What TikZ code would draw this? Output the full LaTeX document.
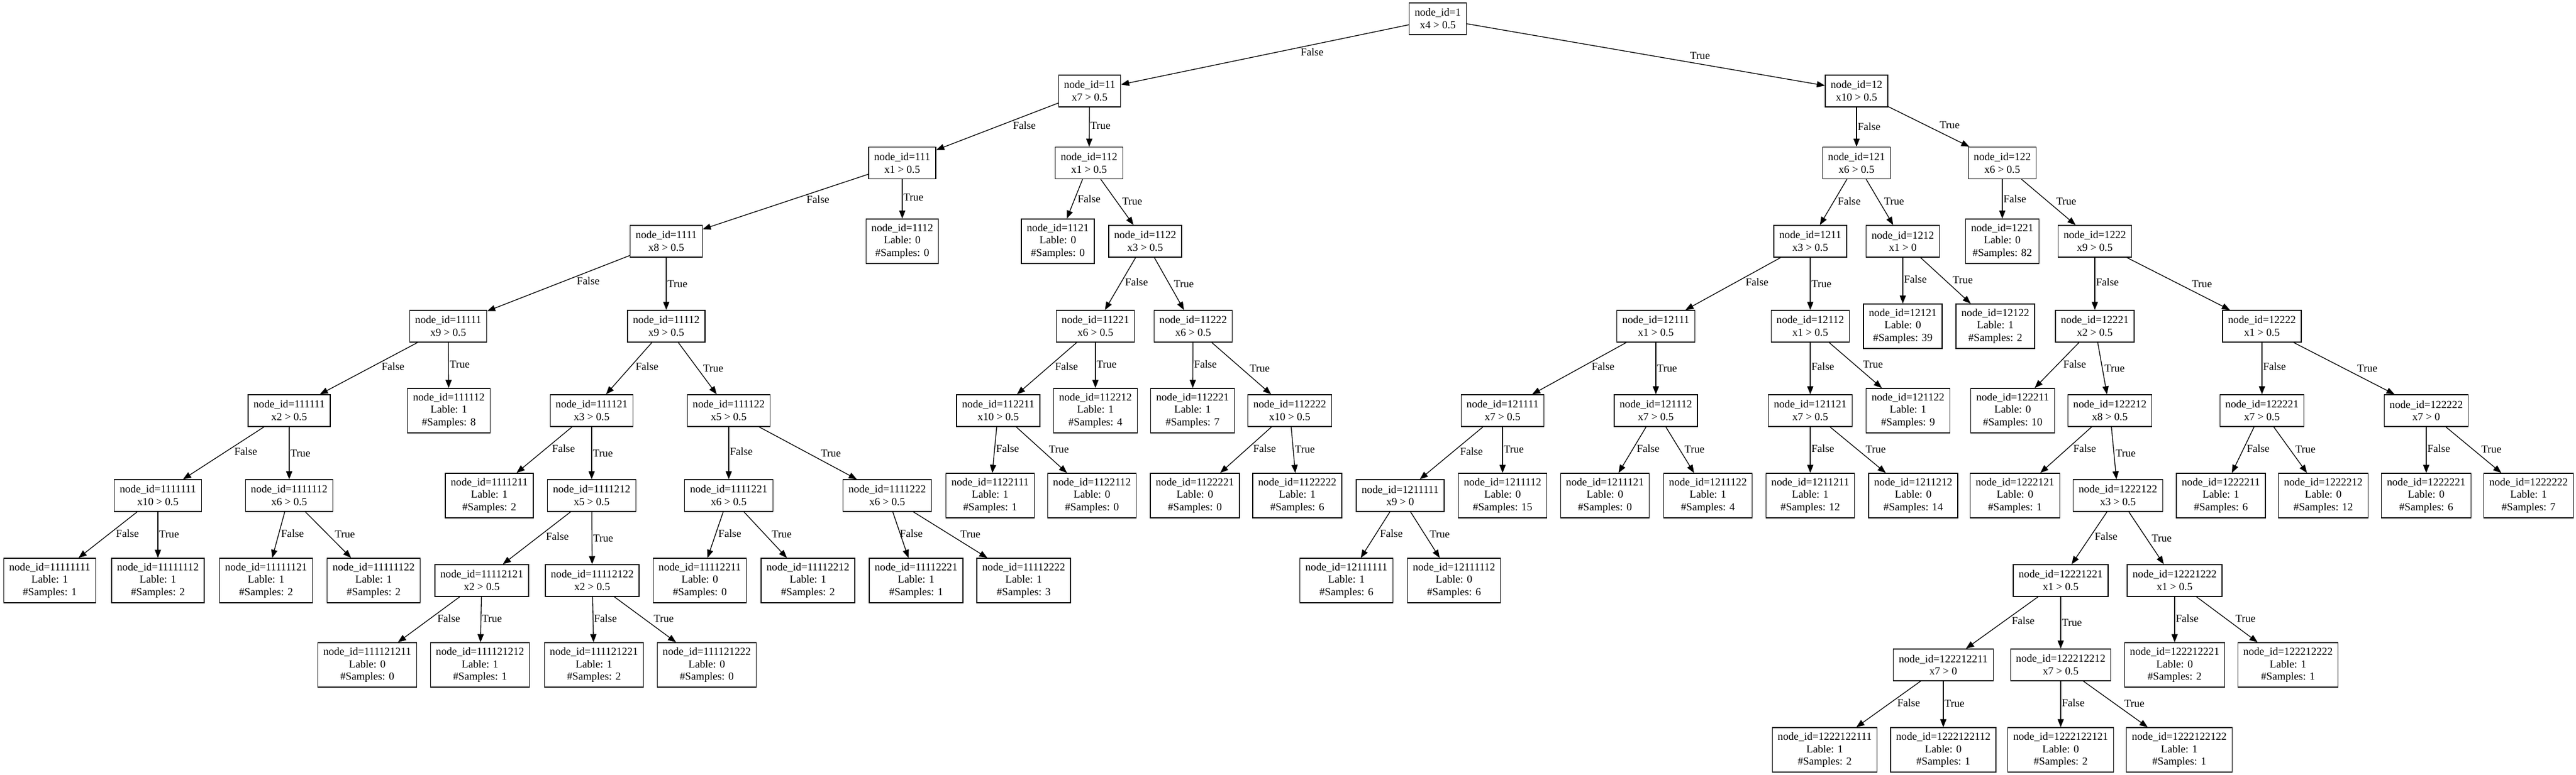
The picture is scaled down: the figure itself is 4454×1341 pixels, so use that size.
\documentclass[tikz,border=0pt]{standalone}
\usepackage{fontspec}
\setmainfont{Liberation Serif}
\usetikzlibrary{arrows.meta}

\begin{document}
\begin{tikzpicture}[x=0.75pt,y=-0.75pt]
					\useasboundingbox (0,0) rectangle (4454,1341);
					\tikzstyle{every node}=[font=\fontsize{14pt}{16.3pt}\selectfont];
					\tikzstyle{split}=[draw,line width=1pt,align=center,minimum height=41.25pt,inner xsep=7pt,inner ysep=2pt];
					\tikzstyle{leaf}=[split,minimum height=57.75pt];
					\tikzstyle{edge}=[line width=1pt,-{Triangle[length=10.5pt,width=8pt]}];
					\tikzstyle{fl}=[pos=0.38,anchor=north west,inner xsep=1pt,inner ysep=0pt,text height=10pt,text depth=3pt];
					\tikzstyle{tl}=[fl,pos=0.62,anchor=south west];

					\path (2486,32.5) node[split] (n1) {node\_id=1\\x4 > 0.5};

					\path (1884,157.5) node[split] (n11) {node\_id=11\\x7 > 0.5};
					\path (3210,157.5) node[split] (n12) {node\_id=12\\x10 > 0.5};

					\path (1560,282) node[split] (n111) {node\_id=111\\x1 > 0.5};
					\path (1883,282) node[split] (n112) {node\_id=112\\x1 > 0.5};
					\path (3210,282) node[split] (n121) {node\_id=121\\x6 > 0.5};
					\path (3462,282) node[split] (n122) {node\_id=122\\x6 > 0.5};

					\path (1152,417.5) node[split] (n1111) {node\_id=1111\\x8 > 0.5};
					\path (1560,417.5) node[leaf] (n1112) {node\_id=1112\\Lable: 0\\\#Samples: 0};
					\path (1829,417.5) node[leaf] (n1121) {node\_id=1121\\Lable: 0\\\#Samples: 0};
					\path (1980,417.5) node[split] (n1122) {node\_id=1122\\x3 > 0.5};
					\path (3130,417.5) node[split] (n1211) {node\_id=1211\\x3 > 0.5};
					\path (3290,417.5) node[split] (n1212) {node\_id=1212\\x1 > 0};
					\path (3462,417.5) node[leaf] (n1221) {node\_id=1221\\Lable: 0\\\#Samples: 82};
					\path (3622,417.5) node[split] (n1222) {node\_id=1222\\x9 > 0.5};

					\path (775,564.5) node[split] (n11111) {node\_id=11111\\x9 > 0.5};
					\path (1152,564.5) node[split] (n11112) {node\_id=11112\\x9 > 0.5};
					\path (1894,564.5) node[split] (n11221) {node\_id=11221\\x6 > 0.5};
					\path (2063,564.5) node[split] (n11222) {node\_id=11222\\x6 > 0.5};
					\path (2863,564.5) node[split] (n12111) {node\_id=12111\\x1 > 0.5};
					\path (3130,564.5) node[split] (n12112) {node\_id=12112\\x1 > 0.5};
					\path (3290,564.5) node[leaf] (n12121) {node\_id=12121\\Lable: 0\\\#Samples: 39};
					\path (3450,564.5) node[leaf] (n12122) {node\_id=12122\\Lable: 1\\\#Samples: 2};
					\path (3622,564.5) node[split] (n12221) {node\_id=12221\\x2 > 0.5};
					\path (3911,564.5) node[split] (n12222) {node\_id=12222\\x1 > 0.5};

					\path (500,710.5) node[split] (n111111) {node\_id=111111\\x2 > 0.5};
					\path (776,710.5) node[leaf] (n111112) {node\_id=111112\\Lable: 1\\\#Samples: 8};
					\path (1023,710.5) node[split] (n111121) {node\_id=111121\\x3 > 0.5};
					\path (1260,710.5) node[split] (n111122) {node\_id=111122\\x5 > 0.5};
					\path (1726,710.5) node[split] (n112211) {node\_id=112211\\x10 > 0.5};
					\path (1894,710.5) node[leaf] (n112212) {node\_id=112212\\Lable: 1\\\#Samples: 4};
					\path (2062,710.5) node[leaf] (n112221) {node\_id=112221\\Lable: 1\\\#Samples: 7};
					\path (2230,710.5) node[split] (n112222) {node\_id=112222\\x10 > 0.5};
					\path (2598,710.5) node[split] (n121111) {node\_id=121111\\x7 > 0.5};
					\path (2863,710.5) node[split] (n121112) {node\_id=121112\\x7 > 0.5};
					\path (3130,710.5) node[split] (n121121) {node\_id=121121\\x7 > 0.5};
					\path (3299,710.5) node[leaf] (n121122) {node\_id=121122\\Lable: 1\\\#Samples: 9};
					\path (3480,710.5) node[leaf] (n122211) {node\_id=122211\\Lable: 0\\\#Samples: 10};
					\path (3648,710.5) node[split] (n122212) {node\_id=122212\\x8 > 0.5};
					\path (3911,710.5) node[split] (n122221) {node\_id=122221\\x7 > 0.5};
					\path (4195,710.5) node[split] (n122222) {node\_id=122222\\x7 > 0};

					\path (273,857.5) node[split] (n1111111) {node\_id=1111111\\x10 > 0.5};
					\path (500,857.5) node[split] (n1111112) {node\_id=1111112\\x6 > 0.5};
					\path (846,857.5) node[leaf] (n1111211) {node\_id=1111211\\Lable: 1\\\#Samples: 2};
					\path (1023,857.5) node[split] (n1111212) {node\_id=1111212\\x5 > 0.5};
					\path (1260,857.5) node[split] (n1111221) {node\_id=1111221\\x6 > 0.5};
					\path (1534,857.5) node[split] (n1111222) {node\_id=1111222\\x6 > 0.5};
					\path (1712,857.5) node[leaf] (n1122111) {node\_id=1122111\\Lable: 1\\\#Samples: 1};
					\path (1888,857.5) node[leaf] (n1122112) {node\_id=1122112\\Lable: 0\\\#Samples: 0};
					\path (2066,857.5) node[leaf] (n1122221) {node\_id=1122221\\Lable: 0\\\#Samples: 0};
					\path (2243,857.5) node[leaf] (n1122222) {node\_id=1122222\\Lable: 1\\\#Samples: 6};
					\path (2421,857.5) node[split] (n1211111) {node\_id=1211111\\x9 > 0};
					\path (2598,857.5) node[leaf] (n1211112) {node\_id=1211112\\Lable: 0\\\#Samples: 15};
					\path (2775,857.5) node[leaf] (n1211121) {node\_id=1211121\\Lable: 0\\\#Samples: 0};
					\path (2953,857.5) node[leaf] (n1211122) {node\_id=1211122\\Lable: 1\\\#Samples: 4};
					\path (3130,857.5) node[leaf] (n1211211) {node\_id=1211211\\Lable: 1\\\#Samples: 12};
					\path (3308,857.5) node[leaf] (n1211212) {node\_id=1211212\\Lable: 0\\\#Samples: 14};
					\path (3484,857.5) node[leaf] (n1222121) {node\_id=1222121\\Lable: 0\\\#Samples: 1};
					\path (3662,857.5) node[split] (n1222122) {node\_id=1222122\\x3 > 0.5};
					\path (3840,857.5) node[leaf] (n1222211) {node\_id=1222211\\Lable: 1\\\#Samples: 6};
					\path (4017,857.5) node[leaf] (n1222212) {node\_id=1222212\\Lable: 0\\\#Samples: 12};
					\path (4195,857.5) node[leaf] (n1222221) {node\_id=1222221\\Lable: 0\\\#Samples: 6};
					\path (4372,857.5) node[leaf] (n1222222) {node\_id=1222222\\Lable: 1\\\#Samples: 7};

					\path (86,1004.5) node[leaf] (n11111111) {node\_id=11111111\\Lable: 1\\\#Samples: 1};
					\path (273,1004.5) node[leaf] (n11111112) {node\_id=11111112\\Lable: 1\\\#Samples: 2};
					\path (460,1004.5) node[leaf] (n11111121) {node\_id=11111121\\Lable: 1\\\#Samples: 2};
					\path (646,1004.5) node[leaf] (n11111122) {node\_id=11111122\\Lable: 1\\\#Samples: 2};
					\path (833,1004.5) node[split] (n11112121) {node\_id=11112121\\x2 > 0.5};
					\path (1024,1004.5) node[split] (n11112122) {node\_id=11112122\\x2 > 0.5};
					\path (1210,1004.5) node[leaf] (n11112211) {node\_id=11112211\\Lable: 0\\\#Samples: 0};
					\path (1397,1004.5) node[leaf] (n11112212) {node\_id=11112212\\Lable: 1\\\#Samples: 2};
					\path (1584,1004.5) node[leaf] (n11112221) {node\_id=11112221\\Lable: 1\\\#Samples: 1};
					\path (1770,1004.5) node[leaf] (n11112222) {node\_id=11112222\\Lable: 1\\\#Samples: 3};
					\path (2328,1004.5) node[leaf] (n12111111) {node\_id=12111111\\Lable: 1\\\#Samples: 6};
					\path (2514,1004.5) node[leaf] (n12111112) {node\_id=12111112\\Lable: 0\\\#Samples: 6};
					\path (3563,1004.5) node[split] (n12221221) {node\_id=12221221\\x1 > 0.5};
					\path (3760,1004.5) node[split] (n12221222) {node\_id=12221222\\x1 > 0.5};

					\path (635,1150.5) node[leaf] (n111121211) {node\_id=111121211\\Lable: 0\\\#Samples: 0};
					\path (830,1150.5) node[leaf] (n111121212) {node\_id=111121212\\Lable: 1\\\#Samples: 1};
					\path (1027,1150.5) node[leaf] (n111121221) {node\_id=111121221\\Lable: 1\\\#Samples: 2};
					\path (1222,1150.5) node[leaf] (n111121222) {node\_id=111121222\\Lable: 0\\\#Samples: 0};
					\path (3360,1150.5) node[split] (n122212211) {node\_id=122212211\\x7 > 0};
					\path (3563,1150.5) node[split] (n122212212) {node\_id=122212212\\x7 > 0.5};
					\path (3760,1150.5) node[leaf] (n122212221) {node\_id=122212221\\Lable: 0\\\#Samples: 2};
					\path (3956,1150.5) node[leaf] (n122212222) {node\_id=122212222\\Lable: 1\\\#Samples: 1};

					\path (3155,1297.5) node[leaf] (n1222122111) {node\_id=1222122111\\Lable: 1\\\#Samples: 2};
					\path (3360,1297.5) node[leaf] (n1222122112) {node\_id=1222122112\\Lable: 0\\\#Samples: 1};
					\path (3563,1297.5) node[leaf] (n1222122121) {node\_id=1222122121\\Lable: 0\\\#Samples: 2};
					\path (3768,1297.5) node[leaf] (n1222122122) {node\_id=1222122122\\Lable: 1\\\#Samples: 1};

					\draw[edge] (n1) -- node[fl] {False} (n11);
					\draw[edge] (n1) -- node[tl] {True} (n12);
					\draw[edge] (n11) -- node[fl] {False} (n111);
					\draw[edge] (n11) -- node[tl] {True} (n112);
					\draw[edge] (n12) -- node[fl] {False} (n121);
					\draw[edge] (n12) -- node[tl] {True} (n122);
					\draw[edge] (n111) -- node[fl] {False} (n1111);
					\draw[edge] (n111) -- node[tl] {True} (n1112);
					\draw[edge] (n112) -- node[fl] {False} (n1121);
					\draw[edge] (n112) -- node[tl] {True} (n1122);
					\draw[edge] (n121) -- node[fl] {False} (n1211);
					\draw[edge] (n121) -- node[tl] {True} (n1212);
					\draw[edge] (n122) -- node[fl] {False} (n1221);
					\draw[edge] (n122) -- node[tl] {True} (n1222);
					\draw[edge] (n1111) -- node[fl] {False} (n11111);
					\draw[edge] (n1111) -- node[tl] {True} (n11112);
					\draw[edge] (n1122) -- node[fl] {False} (n11221);
					\draw[edge] (n1122) -- node[tl] {True} (n11222);
					\draw[edge] (n1211) -- node[fl] {False} (n12111);
					\draw[edge] (n1211) -- node[tl] {True} (n12112);
					\draw[edge] (n1212) -- node[fl] {False} (n12121);
					\draw[edge] (n1212) -- node[tl] {True} (n12122);
					\draw[edge] (n1222) -- node[fl] {False} (n12221);
					\draw[edge] (n1222) -- node[tl] {True} (n12222);
					\draw[edge] (n11111) -- node[fl] {False} (n111111);
					\draw[edge] (n11111) -- node[tl] {True} (n111112);
					\draw[edge] (n11112) -- node[fl] {False} (n111121);
					\draw[edge] (n11112) -- node[tl] {True} (n111122);
					\draw[edge] (n11221) -- node[fl] {False} (n112211);
					\draw[edge] (n11221) -- node[tl] {True} (n112212);
					\draw[edge] (n11222) -- node[fl] {False} (n112221);
					\draw[edge] (n11222) -- node[tl] {True} (n112222);
					\draw[edge] (n12111) -- node[fl] {False} (n121111);
					\draw[edge] (n12111) -- node[tl] {True} (n121112);
					\draw[edge] (n12112) -- node[fl] {False} (n121121);
					\draw[edge] (n12112) -- node[tl] {True} (n121122);
					\draw[edge] (n12221) -- node[fl] {False} (n122211);
					\draw[edge] (n12221) -- node[tl] {True} (n122212);
					\draw[edge] (n12222) -- node[fl] {False} (n122221);
					\draw[edge] (n12222) -- node[tl] {True} (n122222);
					\draw[edge] (n111111) -- node[fl] {False} (n1111111);
					\draw[edge] (n111111) -- node[tl] {True} (n1111112);
					\draw[edge] (n111121) -- node[fl] {False} (n1111211);
					\draw[edge] (n111121) -- node[tl] {True} (n1111212);
					\draw[edge] (n111122) -- node[fl] {False} (n1111221);
					\draw[edge] (n111122) -- node[tl] {True} (n1111222);
					\draw[edge] (n112211) -- node[fl] {False} (n1122111);
					\draw[edge] (n112211) -- node[tl] {True} (n1122112);
					\draw[edge] (n112222) -- node[fl] {False} (n1122221);
					\draw[edge] (n112222) -- node[tl] {True} (n1122222);
					\draw[edge] (n121111) -- node[fl] {False} (n1211111);
					\draw[edge] (n121111) -- node[tl] {True} (n1211112);
					\draw[edge] (n121112) -- node[fl] {False} (n1211121);
					\draw[edge] (n121112) -- node[tl] {True} (n1211122);
					\draw[edge] (n121121) -- node[fl] {False} (n1211211);
					\draw[edge] (n121121) -- node[tl] {True} (n1211212);
					\draw[edge] (n122212) -- node[fl] {False} (n1222121);
					\draw[edge] (n122212) -- node[tl] {True} (n1222122);
					\draw[edge] (n122221) -- node[fl] {False} (n1222211);
					\draw[edge] (n122221) -- node[tl] {True} (n1222212);
					\draw[edge] (n122222) -- node[fl] {False} (n1222221);
					\draw[edge] (n122222) -- node[tl] {True} (n1222222);
					\draw[edge] (n1111111) -- node[fl] {False} (n11111111);
					\draw[edge] (n1111111) -- node[tl] {True} (n11111112);
					\draw[edge] (n1111112) -- node[fl] {False} (n11111121);
					\draw[edge] (n1111112) -- node[tl] {True} (n11111122);
					\draw[edge] (n1111212) -- node[fl] {False} (n11112121);
					\draw[edge] (n1111212) -- node[tl] {True} (n11112122);
					\draw[edge] (n1111221) -- node[fl] {False} (n11112211);
					\draw[edge] (n1111221) -- node[tl] {True} (n11112212);
					\draw[edge] (n1111222) -- node[fl] {False} (n11112221);
					\draw[edge] (n1111222) -- node[tl] {True} (n11112222);
					\draw[edge] (n1211111) -- node[fl] {False} (n12111111);
					\draw[edge] (n1211111) -- node[tl] {True} (n12111112);
					\draw[edge] (n1222122) -- node[fl] {False} (n12221221);
					\draw[edge] (n1222122) -- node[tl] {True} (n12221222);
					\draw[edge] (n11112121) -- node[fl] {False} (n111121211);
					\draw[edge] (n11112121) -- node[tl] {True} (n111121212);
					\draw[edge] (n11112122) -- node[fl] {False} (n111121221);
					\draw[edge] (n11112122) -- node[tl] {True} (n111121222);
					\draw[edge] (n12221221) -- node[fl] {False} (n122212211);
					\draw[edge] (n12221221) -- node[tl] {True} (n122212212);
					\draw[edge] (n12221222) -- node[fl] {False} (n122212221);
					\draw[edge] (n12221222) -- node[tl] {True} (n122212222);
					\draw[edge] (n122212211) -- node[fl] {False} (n1222122111);
					\draw[edge] (n122212211) -- node[tl] {True} (n1222122112);
					\draw[edge] (n122212212) -- node[fl] {False} (n1222122121);
					\draw[edge] (n122212212) -- node[tl] {True} (n1222122122);
\end{tikzpicture}
\end{document}
